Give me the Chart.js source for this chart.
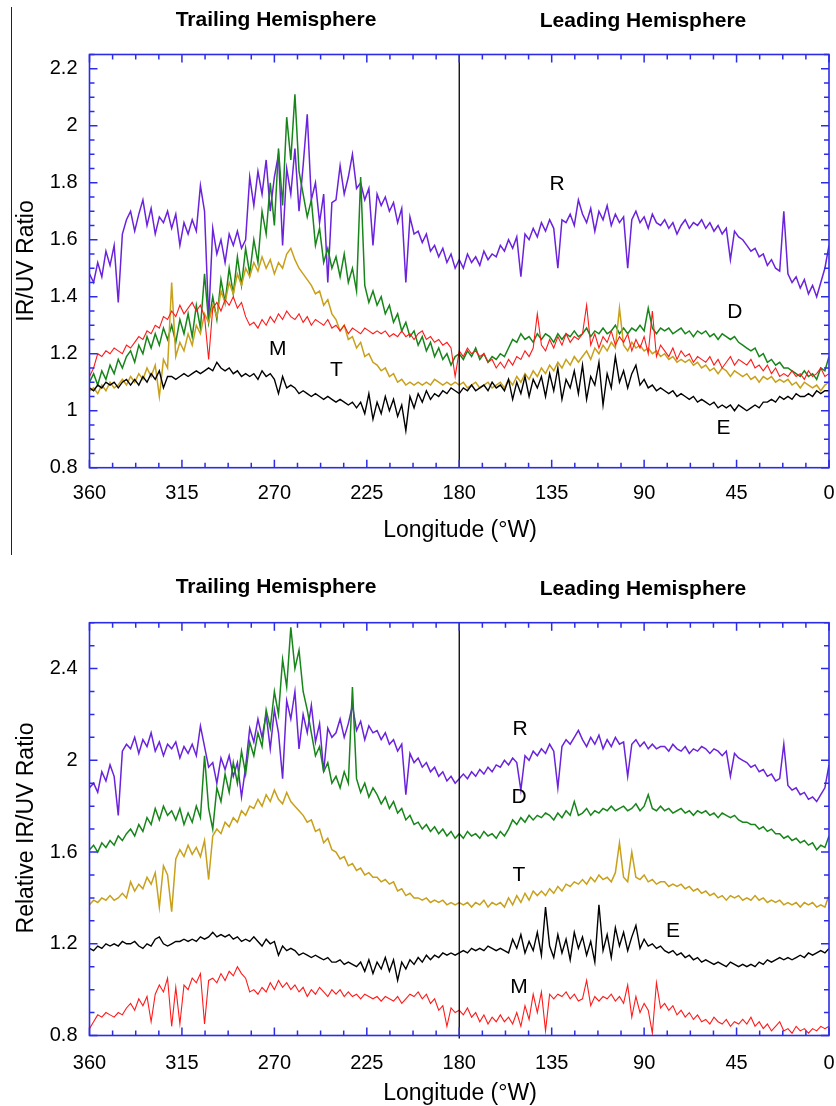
<!DOCTYPE html>
<html><head><meta charset="utf-8">
<script src="https://cdn.jsdelivr.net/npm/chart.js@4.4.0/dist/chart.umd.min.js"></script>
<style>
html,body{margin:0;padding:0;background:#fff;}
#wrap{position:relative;width:836px;height:1106px;overflow:hidden;background:#fff;}
canvas{position:absolute;left:0;}
#c1{top:0}
#c2{top:560px}
#pageline{position:absolute;left:11px;top:7px;width:1px;height:548px;background:#222;}
</style></head><body>
<div id="wrap"><div id="pageline"></div>
<canvas id="c1" width="836" height="560"></canvas>
<canvas id="c2" width="836" height="546"></canvas>
</div>
<script>
// ---------- categories (longitude, °W) ----------
const lon = [
360,358,356,354,352,350,348,346,344,342,
340,338,336,334,332,330,328,326,324,322,
320,318,316,314,312,310,308,306,304,302,
300,298,296,294,292,290,288,286,284,282,
280,278,276,274,272,270,268,266,264,262,
260,258,256,254,252,250,248,246,244,242,
240,238,236,234,232,230,228,226,224,222,
220,218,216,214,212,210,208,206,204,202,
200,198,196,194,192,190,188,186,184,182,
180,178,176,174,172,170,168,166,164,162,
160,158,156,154,152,150,148,146,144,142,
140,138,136,134,132,130,128,126,124,122,
120,118,116,114,112,110,108,106,104,102,
100,98,96,94,92,90,88,86,84,82,
80,78,76,74,72,70,68,66,64,62,
60,58,56,54,52,50,48,46,44,42,
40,38,36,34,32,30,28,26,24,22,
20,18,16,14,12,10,8,6,4,2,
0];

// ---------- tick labels ----------
const xTicks = [360,315,270,225,180,135,90,45,0];
const yTicksTop = [0.8,1.0,1.2,1.4,1.6,1.8,2.0,2.2];
const yTicksBottom = [0.8,1.2,1.6,2.0,2.4];

// ---------- top panel: IR/UV ratio ----------
const topR = [
1.48,1.45,1.52,1.47,1.56,1.51,1.58,1.38,1.62,1.67,
1.70,1.63,1.69,1.74,1.65,1.71,1.62,1.68,1.66,1.70,
1.64,1.69,1.58,1.66,1.62,1.67,1.63,1.79,1.70,1.32,
1.64,1.55,1.60,1.52,1.62,1.58,1.63,1.57,1.60,1.82,
1.72,1.84,1.76,1.88,1.70,1.82,1.90,1.58,1.85,1.76,
1.92,1.70,1.86,2.04,1.74,1.80,1.66,1.76,1.45,1.73,
1.74,1.86,1.76,1.82,1.90,1.78,1.80,1.74,1.78,1.58,
1.76,1.72,1.75,1.70,1.73,1.66,1.71,1.45,1.68,1.62,
1.63,1.59,1.62,1.56,1.58,1.54,1.57,1.52,1.55,1.50,
1.53,1.50,1.55,1.52,1.54,1.51,1.56,1.53,1.55,1.54,
1.58,1.56,1.60,1.57,1.61,1.47,1.62,1.60,1.64,1.61,
1.66,1.63,1.67,1.64,1.50,1.67,1.66,1.69,1.65,1.74,
1.69,1.66,1.71,1.63,1.70,1.67,1.72,1.65,1.69,1.66,
1.68,1.50,1.67,1.70,1.66,1.68,1.64,1.69,1.66,1.65,
1.67,1.64,1.66,1.62,1.65,1.67,1.64,1.66,1.65,1.67,
1.64,1.66,1.63,1.65,1.62,1.64,1.53,1.63,1.61,1.60,
1.58,1.56,1.57,1.54,1.55,1.51,1.53,1.50,1.49,1.70,
1.48,1.45,1.47,1.43,1.46,1.41,1.44,1.40,1.45,1.50,
1.58];
const topD = [
1.10,1.13,1.09,1.14,1.11,1.16,1.13,1.18,1.15,1.19,
1.21,1.17,1.23,1.20,1.26,1.22,1.27,1.23,1.29,1.25,
1.30,1.24,1.32,1.27,1.34,1.26,1.37,1.29,1.48,1.31,
1.40,1.32,1.46,1.38,1.50,1.41,1.54,1.44,1.57,1.48,
1.60,1.52,1.70,1.62,1.80,1.65,1.92,1.72,2.03,1.88,
2.11,1.84,1.76,1.68,1.74,1.58,1.64,1.52,1.57,1.50,
1.54,1.47,1.55,1.45,1.50,1.42,1.82,1.44,1.38,1.42,
1.37,1.40,1.34,1.37,1.31,1.34,1.28,1.31,1.26,1.28,
1.23,1.26,1.21,1.24,1.19,1.22,1.18,1.20,1.16,1.19,
1.20,1.18,1.21,1.19,1.22,1.18,1.20,1.17,1.19,1.18,
1.20,1.19,1.22,1.25,1.24,1.27,1.25,1.26,1.24,1.27,
1.25,1.27,1.26,1.24,1.27,1.25,1.27,1.26,1.28,1.26,
1.27,1.29,1.26,1.28,1.27,1.29,1.27,1.28,1.30,1.27,
1.29,1.27,1.29,1.28,1.30,1.28,1.36,1.29,1.27,1.29,
1.28,1.29,1.27,1.28,1.29,1.27,1.28,1.26,1.28,1.27,
1.28,1.26,1.27,1.25,1.27,1.26,1.25,1.26,1.24,1.23,
1.22,1.21,1.22,1.19,1.20,1.17,1.18,1.16,1.17,1.15,
1.15,1.14,1.13,1.12,1.14,1.12,1.13,1.11,1.15,1.14,
1.19];
const topT = [
1.07,1.08,1.06,1.09,1.07,1.10,1.08,1.09,1.11,1.09,
1.12,1.10,1.13,1.11,1.15,1.12,1.16,1.05,1.18,1.15,
1.45,1.19,1.24,1.21,1.27,1.23,1.30,1.27,1.34,1.31,
1.37,1.33,1.42,1.38,1.45,1.41,1.48,1.44,1.50,1.47,
1.52,1.49,1.54,1.50,1.53,1.48,1.52,1.50,1.55,1.57,
1.53,1.50,1.48,1.46,1.44,1.41,1.42,1.37,1.39,1.34,
1.32,1.28,1.30,1.25,1.26,1.22,1.24,1.19,1.20,1.17,
1.16,1.14,1.15,1.12,1.13,1.10,1.11,1.09,1.10,1.09,
1.10,1.09,1.10,1.09,1.11,1.10,1.09,1.10,1.09,1.10,
1.09,1.10,1.08,1.09,1.10,1.08,1.09,1.10,1.08,1.09,
1.10,1.08,1.11,1.09,1.12,1.10,1.13,1.11,1.14,1.12,
1.15,1.13,1.16,1.14,1.17,1.15,1.18,1.16,1.19,1.17,
1.19,1.21,1.18,1.22,1.20,1.23,1.21,1.24,1.22,1.36,
1.23,1.21,1.24,1.22,1.23,1.21,1.22,1.20,1.21,1.19,
1.20,1.18,1.19,1.17,1.18,1.17,1.18,1.16,1.17,1.15,
1.16,1.14,1.15,1.13,1.15,1.14,1.12,1.14,1.13,1.12,
1.13,1.11,1.12,1.10,1.12,1.11,1.12,1.10,1.11,1.10,
1.11,1.09,1.10,1.08,1.10,1.09,1.08,1.09,1.07,1.09,
1.10];
const topM = [
1.12,1.15,1.20,1.19,1.21,1.20,1.22,1.21,1.20,1.23,
1.22,1.24,1.26,1.25,1.28,1.27,1.30,1.29,1.33,1.32,
1.35,1.33,1.37,1.34,1.36,1.38,1.35,1.37,1.33,1.18,
1.36,1.38,1.35,1.39,1.37,1.40,1.36,1.38,1.33,1.30,
1.31,1.29,1.32,1.30,1.33,1.31,1.34,1.32,1.35,1.33,
1.32,1.34,1.31,1.33,1.30,1.32,1.31,1.30,1.32,1.29,
1.30,1.28,1.30,1.27,1.29,1.28,1.27,1.29,1.28,1.27,
1.28,1.27,1.28,1.26,1.27,1.26,1.28,1.26,1.27,1.25,
1.27,1.28,1.25,1.26,1.24,1.25,1.23,1.24,1.22,1.12,
1.21,1.19,1.22,1.20,1.21,1.19,1.20,1.17,1.18,1.15,
1.17,1.15,1.18,1.16,1.19,1.18,1.21,1.19,1.22,1.34,
1.23,1.21,1.25,1.22,1.26,1.23,1.27,1.24,1.26,1.25,
1.27,1.37,1.23,1.27,1.22,1.26,1.24,1.28,1.23,1.26,
1.24,1.27,1.21,1.25,1.22,1.26,1.20,1.35,1.19,1.23,
1.21,1.19,1.22,1.18,1.21,1.19,1.20,1.17,1.19,1.18,
1.17,1.19,1.16,1.18,1.15,1.17,1.19,1.16,1.18,1.17,
1.16,1.18,1.15,1.16,1.14,1.16,1.13,1.15,1.12,1.13,
1.12,1.14,1.12,1.13,1.11,1.14,1.12,1.13,1.15,1.12,
1.13];
const topE = [
1.08,1.07,1.09,1.08,1.10,1.09,1.10,1.08,1.10,1.11,
1.09,1.11,1.09,1.12,1.10,1.13,1.11,1.14,1.08,1.12,
1.12,1.11,1.12,1.13,1.12,1.13,1.14,1.13,1.14,1.15,
1.14,1.17,1.15,1.14,1.15,1.13,1.14,1.12,1.13,1.12,
1.13,1.11,1.14,1.12,1.13,1.11,1.06,1.12,1.08,1.09,
1.08,1.06,1.07,1.06,1.05,1.06,1.05,1.04,1.05,1.04,
1.03,1.04,1.03,1.02,1.03,1.01,1.03,0.99,1.06,0.97,
1.03,0.99,1.05,1.00,1.04,0.98,1.02,0.93,1.05,1.01,
1.06,1.03,1.07,1.04,1.06,1.05,1.07,1.06,1.08,1.07,
1.06,1.08,1.07,1.09,1.07,1.08,1.09,1.07,1.10,1.08,
1.09,1.07,1.11,1.04,1.10,1.06,1.12,1.05,1.11,1.08,
1.12,1.05,1.13,1.07,1.15,1.04,1.11,1.08,1.14,1.06,
1.16,1.04,1.12,1.09,1.17,1.02,1.13,1.08,1.19,1.10,
1.14,1.08,1.13,1.16,1.09,1.11,1.08,1.09,1.07,1.08,
1.07,1.06,1.07,1.05,1.06,1.05,1.04,1.05,1.03,1.04,
1.03,1.02,1.03,1.01,1.02,1.01,1.02,1.00,1.02,1.01,
1.00,1.01,1.02,1.01,1.03,1.03,1.04,1.03,1.05,1.04,
1.05,1.04,1.06,1.05,1.05,1.06,1.05,1.07,1.06,1.07,
1.07];

// ---------- bottom panel: relative IR/UV ratio ----------
const botR = [
1.88,1.90,1.86,1.95,1.91,1.98,1.93,1.76,2.04,2.07,
2.05,2.10,2.03,2.09,2.06,2.12,2.04,2.08,2.02,2.07,
2.05,2.08,2.01,2.06,2.03,2.07,2.02,2.15,2.06,1.97,
1.99,1.90,2.01,1.96,2.02,1.93,1.99,1.84,1.97,2.14,
2.08,2.18,2.10,2.20,2.05,2.22,2.12,1.92,2.26,2.18,
2.30,2.05,2.20,2.12,2.24,2.08,2.16,1.95,2.14,2.10,
2.12,2.18,2.10,2.16,2.24,2.13,2.17,2.09,2.15,2.12,
2.13,2.09,2.12,2.07,2.09,2.04,2.07,1.85,2.03,1.99,
2.01,1.97,1.99,1.95,1.97,1.93,1.95,1.91,1.93,1.90,
1.92,1.94,1.92,1.95,1.93,1.96,1.94,1.97,1.95,1.98,
1.97,2.00,1.98,2.01,1.99,1.87,2.02,2.00,2.04,2.02,
2.05,2.03,2.07,2.04,1.88,2.06,2.09,2.07,2.10,2.13,
2.09,2.06,2.10,2.07,2.11,2.05,2.09,2.06,2.10,2.07,
2.08,1.93,2.07,2.09,2.06,2.08,2.05,2.07,2.05,2.06,
2.06,2.04,2.07,2.05,2.04,2.06,2.03,2.05,2.04,2.06,
2.05,2.03,2.05,2.04,2.02,2.04,1.93,2.03,2.01,2.00,
1.99,1.97,1.98,1.95,1.96,1.93,1.94,1.91,1.92,2.07,
1.89,1.87,1.88,1.85,1.86,1.83,1.84,1.82,1.85,1.88,
1.98];
const botD = [
1.61,1.63,1.60,1.64,1.62,1.65,1.63,1.67,1.65,1.68,
1.70,1.67,1.72,1.69,1.75,1.72,1.79,1.74,1.80,1.76,
1.78,1.74,1.79,1.72,1.77,1.73,1.80,1.75,2.02,1.79,
1.70,1.88,1.82,1.94,1.86,1.99,1.90,2.04,1.94,2.08,
2.02,2.12,2.06,2.22,2.14,2.30,2.20,2.44,2.32,2.58,
2.40,2.48,2.30,2.22,2.12,2.02,2.06,1.95,1.99,1.90,
1.93,1.88,1.95,1.90,2.32,1.92,1.86,1.90,1.84,1.88,
1.85,1.81,1.84,1.79,1.82,1.77,1.79,1.74,1.76,1.72,
1.73,1.70,1.72,1.69,1.71,1.68,1.70,1.67,1.69,1.66,
1.68,1.66,1.69,1.67,1.68,1.66,1.69,1.67,1.68,1.66,
1.69,1.67,1.70,1.74,1.72,1.75,1.73,1.76,1.74,1.76,
1.75,1.77,1.76,1.74,1.77,1.75,1.78,1.76,1.82,1.76,
1.77,1.79,1.76,1.78,1.77,1.79,1.78,1.80,1.78,1.79,
1.80,1.78,1.79,1.81,1.78,1.80,1.85,1.79,1.78,1.80,
1.78,1.79,1.77,1.78,1.79,1.77,1.78,1.76,1.78,1.77,
1.78,1.76,1.77,1.75,1.77,1.76,1.75,1.76,1.74,1.73,
1.73,1.72,1.72,1.70,1.71,1.69,1.70,1.68,1.68,1.66,
1.67,1.65,1.66,1.64,1.65,1.63,1.64,1.61,1.63,1.62,
1.67];
const botT = [
1.37,1.39,1.38,1.40,1.39,1.41,1.39,1.40,1.42,1.40,
1.47,1.43,1.46,1.44,1.49,1.46,1.51,1.36,1.54,1.50,
1.34,1.57,1.61,1.58,1.63,1.59,1.62,1.58,1.65,1.48,
1.67,1.70,1.68,1.73,1.71,1.75,1.73,1.78,1.76,1.80,
1.79,1.83,1.80,1.85,1.82,1.87,1.83,1.81,1.86,1.82,
1.80,1.78,1.76,1.73,1.74,1.69,1.70,1.64,1.66,1.61,
1.60,1.57,1.58,1.54,1.55,1.52,1.53,1.50,1.51,1.49,
1.49,1.47,1.48,1.46,1.47,1.43,1.44,1.41,1.42,1.40,
1.40,1.39,1.40,1.38,1.39,1.38,1.39,1.37,1.38,1.37,
1.38,1.37,1.38,1.36,1.38,1.37,1.39,1.36,1.38,1.37,
1.38,1.36,1.40,1.37,1.41,1.38,1.42,1.39,1.43,1.41,
1.43,1.41,1.44,1.42,1.45,1.43,1.46,1.45,1.47,1.46,
1.48,1.46,1.49,1.47,1.50,1.48,1.49,1.47,1.51,1.64,
1.49,1.47,1.60,1.49,1.48,1.50,1.47,1.48,1.46,1.47,
1.47,1.45,1.46,1.45,1.46,1.44,1.45,1.43,1.44,1.42,
1.43,1.41,1.42,1.40,1.41,1.39,1.41,1.40,1.41,1.39,
1.40,1.39,1.41,1.39,1.40,1.38,1.39,1.38,1.39,1.37,
1.38,1.37,1.38,1.36,1.38,1.37,1.38,1.36,1.37,1.36,
1.41];
const botE = [
1.18,1.17,1.19,1.18,1.20,1.19,1.20,1.19,1.21,1.20,
1.20,1.21,1.19,1.18,1.20,1.19,1.22,1.23,1.20,1.19,
1.20,1.21,1.21,1.22,1.21,1.22,1.21,1.23,1.22,1.23,
1.25,1.23,1.24,1.23,1.24,1.22,1.23,1.21,1.22,1.21,
1.23,1.21,1.19,1.22,1.20,1.21,1.15,1.19,1.17,1.18,
1.17,1.15,1.16,1.15,1.14,1.15,1.14,1.13,1.14,1.12,
1.12,1.13,1.11,1.12,1.11,1.10,1.12,1.08,1.13,1.07,
1.12,1.09,1.14,1.08,1.13,1.04,1.12,1.09,1.13,1.11,
1.14,1.12,1.15,1.13,1.15,1.14,1.16,1.15,1.16,1.15,
1.16,1.17,1.16,1.18,1.17,1.18,1.17,1.19,1.18,1.17,
1.18,1.17,1.16,1.22,1.18,1.24,1.16,1.21,1.17,1.25,
1.15,1.36,1.19,1.14,1.24,1.16,1.22,1.13,1.25,1.18,
1.23,1.15,1.21,1.12,1.37,1.17,1.24,1.14,1.27,1.19,
1.25,1.17,1.23,1.28,1.18,1.22,1.19,1.20,1.18,1.19,
1.17,1.16,1.17,1.15,1.16,1.14,1.15,1.13,1.14,1.12,
1.13,1.12,1.11,1.12,1.11,1.10,1.12,1.11,1.10,1.11,
1.10,1.11,1.10,1.12,1.11,1.13,1.12,1.13,1.14,1.13,
1.14,1.13,1.14,1.15,1.14,1.16,1.15,1.16,1.17,1.16,
1.18];
const botM = [
0.83,0.86,0.89,0.88,0.90,0.89,0.88,0.90,0.89,0.92,
0.94,0.91,0.96,0.93,0.97,0.86,0.98,1.02,0.99,1.05,
0.84,1.01,0.85,1.02,1.00,1.05,1.03,1.07,0.85,1.04,
1.05,1.03,1.07,1.04,1.08,1.06,1.10,1.07,1.05,0.99,
1.00,0.98,1.01,0.99,1.03,1.00,1.04,1.01,1.03,1.00,
1.02,0.99,1.01,0.97,1.00,0.98,1.01,0.99,0.97,1.00,
0.98,1.00,0.97,0.99,0.97,0.98,0.96,0.98,0.97,0.96,
0.97,0.95,0.97,0.96,0.95,0.97,0.94,0.96,0.98,0.97,
0.99,0.96,0.98,0.94,0.96,0.91,0.93,0.84,0.92,0.90,
0.91,0.89,0.92,0.88,0.90,0.86,0.89,0.85,0.88,0.86,
0.89,0.86,0.88,0.85,0.90,0.84,0.93,0.87,0.98,0.90,
0.99,0.82,0.98,0.96,0.98,0.97,0.99,0.96,0.98,0.95,
0.96,1.04,0.93,0.97,0.95,0.97,0.96,0.98,0.95,0.97,
0.94,1.02,0.88,0.97,0.90,0.94,0.91,0.81,1.03,0.92,
0.94,0.91,0.93,0.89,0.91,0.88,0.90,0.87,0.89,0.86,
0.87,0.85,0.88,0.86,0.85,0.87,0.84,0.86,0.85,0.87,
0.85,0.88,0.84,0.86,0.83,0.85,0.82,0.84,0.86,0.82,
0.83,0.81,0.84,0.82,0.83,0.81,0.83,0.82,0.84,0.83,
0.84];

// ---------- series styling ----------
const COLORS = {R:'#6a22dc', D:'#17851a', T:'#c8a01a', M:'#ff1a1a', E:'#000000'};
const FONT = "'Liberation Sans', Arial, Helvetica, sans-serif";
const AXIS_BLUE = '#2c2ce6';

// annotation letters (placed in data coordinates)
const labelsTop = [
  {t:'R', x:132.4, y:1.794}, {t:'D', x:45.9, y:1.346}, {t:'M', x:268.4, y:1.215},
  {t:'T', x:239.8, y:1.141}, {t:'E', x:51.3, y:0.937}
];
const labelsBottom = [
  {t:'R', x:150.4, y:2.136}, {t:'D', x:150.9, y:1.839}, {t:'T', x:150.9, y:1.499},
  {t:'E', x:76.0, y:1.255}, {t:'M', x:150.9, y:1.011}
];

function decor(opt){
  return {
    id:'decor',
    afterDraw(chart){
      const ctx = chart.ctx, a = chart.chartArea, xs = chart.scales.x, ys = chart.scales.y;
      ctx.save();
      // 180° divider
      ctx.strokeStyle = '#000'; ctx.lineWidth = 1.3;
      const p180 = xs.getPixelForValue(180);
      ctx.beginPath(); ctx.moveTo(p180, a.top); ctx.lineTo(p180, a.bottom + opt.lineExt); ctx.stroke();
      // inward ticks
      ctx.strokeStyle = AXIS_BLUE; ctx.lineWidth = 1.5;
      ctx.beginPath();
      for (let k = 0; k <= 32; k++) {
        const v = k * 11.25, L = (k % 4 === 0) ? 8 : 5, px = xs.getPixelForValue(v);
        ctx.moveTo(px, a.bottom); ctx.lineTo(px, a.bottom - L);
        ctx.moveTo(px, a.top); ctx.lineTo(px, a.top + L);
      }
      for (let k = 0; ; k++) {
        const v = 0.8 + k * opt.yMinor;
        if (v > opt.yMax + 1e-6) break;
        const L = (k % 4 === 0) ? 8 : 5, py = ys.getPixelForValue(v);
        ctx.moveTo(a.left, py); ctx.lineTo(a.left + L, py);
        ctx.moveTo(a.right, py); ctx.lineTo(a.right - L, py);
      }
      ctx.stroke();
      ctx.lineWidth = 1.6;
      ctx.strokeRect(a.left, a.top, a.right - a.left, a.bottom - a.top);
      // series letters
      ctx.fillStyle = '#000'; ctx.font = '21px ' + FONT;
      ctx.textAlign = 'center'; ctx.textBaseline = 'middle';
      opt.labels.forEach(l => ctx.fillText(l.t, xs.getPixelForValue(l.x), ys.getPixelForValue(l.y)));
      // hemisphere headers
      ctx.textBaseline = 'alphabetic';
      ctx.font = 'bold 21px ' + FONT;
      ctx.fillText('Trailing Hemisphere', 276, opt.titleBase[0]);
      ctx.fillText('Leading Hemisphere', 643, opt.titleBase[1]);
      // axis titles
      ctx.font = '23px ' + FONT;
      ctx.fillText('Longitude (\u00B0W)', 460, opt.xTitleBase);
      ctx.translate(33, opt.yTitleCenter);
      ctx.rotate(-Math.PI / 2);
      ctx.fillText(opt.yTitle, 0, 0);
      ctx.restore();
    }
  };
}

function makeChart(id, opt){
  const datasets = opt.series.map(s => ({
    label: s.name,
    data: lon.map((x, i) => ({x: x, y: s.values[i]})),
    borderColor: s.color, borderWidth: s.width,
    pointRadius: 0, fill: false, tension: 0, order: s.order, clip: 0
  }));
  return new Chart(document.getElementById(id), {
    type: 'line',
    data: {datasets: datasets},
    options: {
      responsive: false, animation: false, devicePixelRatio: 1, events: [],
      layout: {padding: {top: opt.padTop, right: 7, left: 0, bottom: 0}},
      plugins: {legend: {display: false}, tooltip: {enabled: false}},
      scales: {
        x: {
          type: 'linear', reverse: true, min: 0, max: 360,
          afterBuildTicks: s => { s.ticks = xTicks.map(v => ({value: v})); },
          afterFit: s => { s.height = opt.xHeight; s.paddingLeft = 0; s.paddingRight = 0; },
          grid: {display: false, drawTicks: false}, border: {display: false},
          ticks: {autoSkip: false, maxRotation: 0, padding: opt.xPad, color: '#000',
                  font: {size: 20, family: FONT}, callback: v => String(v)}
        },
        y: {
          type: 'linear', min: 0.8, max: opt.yMax,
          afterBuildTicks: s => { s.ticks = opt.yTicks.map(v => ({value: v})); },
          afterFit: s => { s.width = 89.5; s.paddingTop = 0; s.paddingBottom = 0; },
          grid: {display: false, drawTicks: false}, border: {display: false},
          ticks: {padding: 12, color: '#000', font: {size: 20, family: FONT},
                  callback: v => String(Math.round(v * 100) / 100)}
        }
      }
    },
    plugins: [decor(opt)]
  });
}

makeChart('c1', {
  padTop: 54.5, xHeight: 92.3, xPad: 14, yMax: 2.25, yMinor: 0.05, yTicks: yTicksTop,
  lineExt: 0, labels: labelsTop, titleBase: [26, 27.3], xTitleBase: 536.7,
  yTitleCenter: 261, yTitle: 'IR/UV Ratio',
  series: [
    {name:'R', values: topR, color: COLORS.R, width: 1.5, order: 4},
    {name:'D', values: topD, color: COLORS.D, width: 1.5, order: 3},
    {name:'T', values: topT, color: COLORS.T, width: 1.5, order: 2},
    {name:'M', values: topM, color: COLORS.M, width: 1.1, order: 1},
    {name:'E', values: topE, color: COLORS.E, width: 1.4, order: 0}
  ]
});

makeChart('c2', {
  padTop: 62.7, xHeight: 70.5, xPad: 16, yMax: 2.6, yMinor: 0.1, yTicks: yTicksBottom,
  lineExt: 3, labels: labelsBottom, titleBase: [33.3, 35], xTitleBase: 540,
  yTitleCenter: 268, yTitle: 'Relative IR/UV Ratio',
  series: [
    {name:'R', values: botR, color: COLORS.R, width: 1.5, order: 4},
    {name:'D', values: botD, color: COLORS.D, width: 1.5, order: 3},
    {name:'T', values: botT, color: COLORS.T, width: 1.5, order: 2},
    {name:'E', values: botE, color: COLORS.E, width: 1.4, order: 1},
    {name:'M', values: botM, color: COLORS.M, width: 1.1, order: 0}
  ]
});
</script>
</body></html>
